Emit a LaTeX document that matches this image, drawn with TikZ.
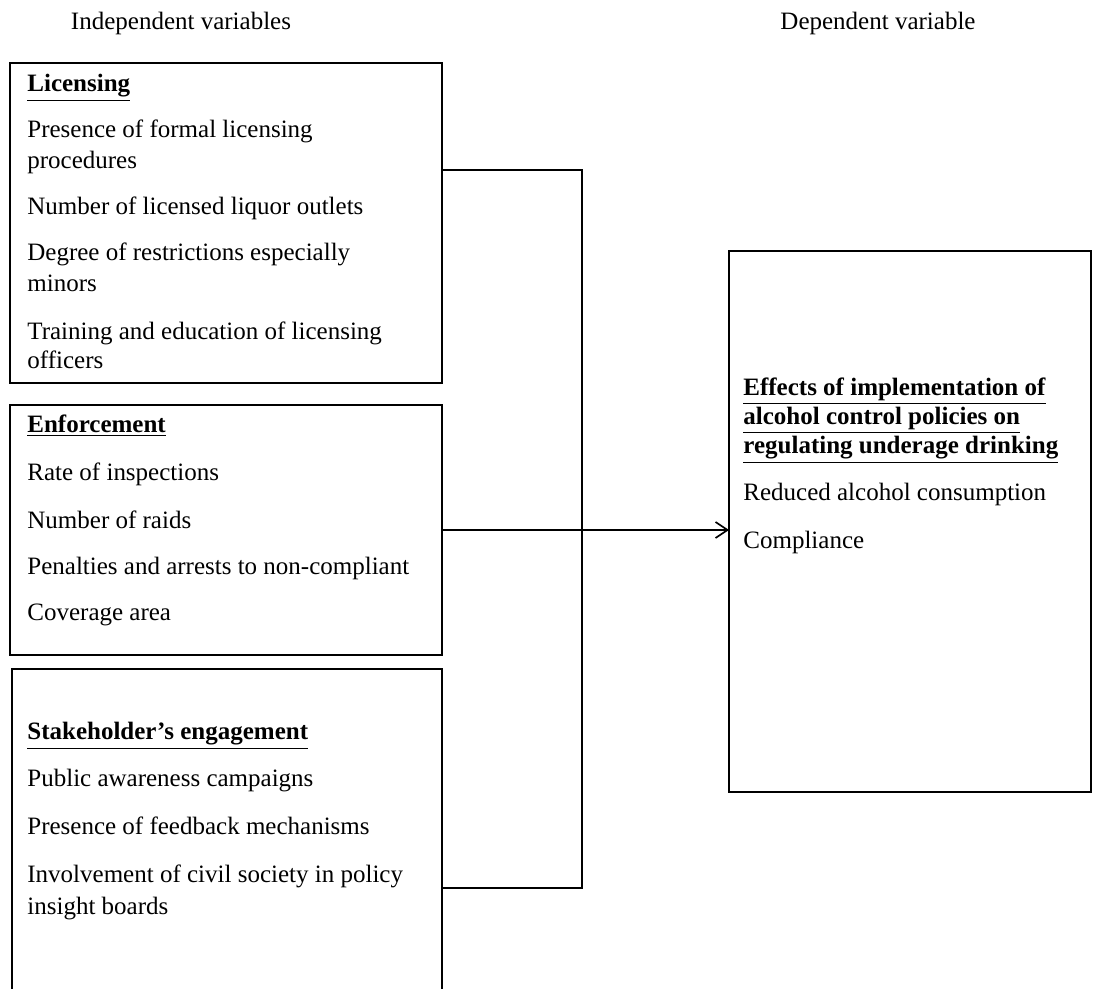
\documentclass[tikz,border=0pt]{standalone}
\usepackage{fontspec}
\setmainfont{Liberation Serif}
\usetikzlibrary{arrows.meta}
\tikzset{
  box/.style={draw, line width=0.9pt, inner sep=0pt, outer sep=0pt, fill=none},
  txt/.style={anchor=mid west, inner sep=0pt, yshift=-1.5pt, font=\fontsize{12.5}{15}\selectfont},
  hdr/.style={anchor=mid, inner sep=0pt, yshift=-1.5pt, font=\fontsize{12.5}{15}\selectfont},
  conn/.style={line width=0.9pt},
  arr/.style={line width=0.9pt, -{Straight Barb[length=6pt,width=8pt,line width=0.8pt]}}
}
\newcommand{\hd}[1]{\underline{\textbf{#1}}}
\begin{document}
\begin{tikzpicture}[x=0.5pt, y=-0.5pt]
\useasboundingbox (0,0) rectangle (1093,989);

% headers
\node[hdr] (hind) at (181,22) {Independent variables};
\node[hdr] (hdep) at (878,22) {Dependent variable};

% boxes
\node[box, minimum width=216pt, minimum height=160pt] (lic) at (226,223) {};
\node[box, minimum width=216pt, minimum height=125pt] (enf) at (226,530) {};
\node[box, minimum width=215pt, minimum height=170pt] (stk) at (227,839) {};
\node[box, minimum width=181pt, minimum height=270.5pt] (dep) at (910,521.5) {};

% licensing texts
\node[txt] (l0) at (27,84) {\hd{Licensing}};
\node[txt] (l1) at (27,130) {Presence of formal licensing};
\node[txt] (l2) at (27,161) {procedures};
\node[txt] (l3) at (27,207) {Number of licensed liquor outlets};
\node[txt] (l4) at (27,253) {Degree of restrictions especially};
\node[txt] (l5) at (27,284) {minors};
\node[txt] (l6) at (27,332) {Training and education of licensing};
\node[txt] (l7) at (27,361) {officers};

% enforcement texts
\node[txt] (e0) at (27,425) {\hd{Enforcement}};
\node[txt] (e1) at (27,473) {Rate of inspections};
\node[txt] (e2) at (27,521) {Number of raids};
\node[txt] (e3) at (27,567) {Penalties and arrests to non-compliant};
\node[txt] (e4) at (27,613) {Coverage area};

% stakeholder texts
\node[txt] (s0) at (27,732) {\hd{Stakeholder’s engagement}};
\node[txt] (s1) at (27,779) {Public awareness campaigns};
\node[txt] (s2) at (27,827) {Presence of feedback mechanisms};
\node[txt] (s3) at (27,875) {Involvement of civil society in policy};
\node[txt] (s4) at (27,907) {insight boards};

% dependent texts
\node[txt] (d0) at (743,388) {\hd{Effects of implementation of}};
\node[txt] (d1) at (743,417) {\hd{alcohol control policies on}};
\node[txt] (d2) at (743,446) {\hd{regulating underage drinking}};
\node[txt] (d3) at (743,493) {Reduced alcohol consumption};
\node[txt] (d4) at (743,541) {Compliance};

% connectors
\coordinate (jt) at (582,170);
\coordinate (jb) at (582,888);
\draw[conn] (jt -| lic.east) -- (jt) -- (jb) -- (jb -| stk.east);
\draw[arr] (enf.east) -- (enf.east -| dep.west);
\end{tikzpicture}
\end{document}
